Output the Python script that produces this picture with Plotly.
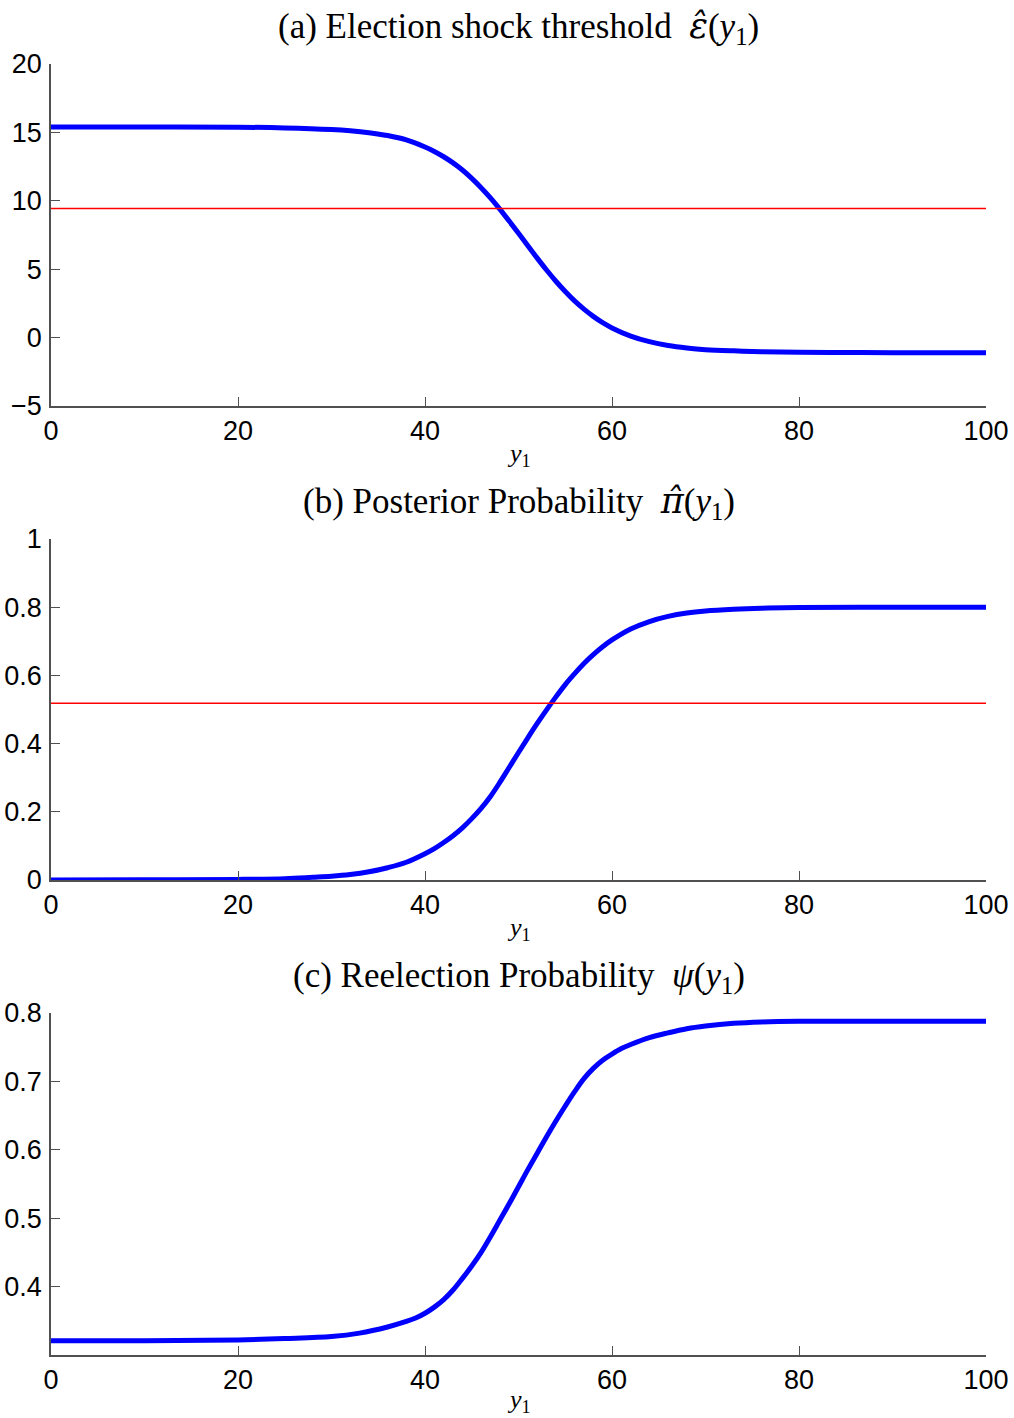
import plotly.graph_objects as go

# ---- data ----
x_a = [0, 10, 20, 25, 30, 32, 34, 36, 38, 40, 41, 42, 43, 44, 45, 46, 47, 48, 49, 50,
       51, 52, 53, 54, 55, 56, 57, 58, 59, 60, 62, 64, 66, 68, 70, 73, 76, 80, 85, 90, 100]
eps_hat = [15.39, 15.39, 15.38, 15.33, 15.21, 15.12, 14.98, 14.77, 14.45, 13.93, 13.61,
           13.22, 12.77, 12.25, 11.64, 10.96, 10.21, 9.39, 8.52, 7.63, 6.71, 5.81, 4.94,
           4.12, 3.37, 2.68, 2.08, 1.55, 1.09, 0.71, 0.11, -0.30, -0.58, -0.76, -0.88,
           -0.97, -1.03, -1.07, -1.09, -1.1, -1.1]
eps_threshold = [9.43, 9.43]

x_b = [0, 10, 20, 25, 28, 30, 32, 34, 36, 38, 40, 41, 42, 43, 44, 45, 46, 47, 48, 49,
       50, 51, 52, 53, 54, 55, 56, 57, 58, 59, 60, 62, 64, 66, 68, 70, 73, 76, 80, 90, 100]
pi_hat = [0.0003, 0.0006, 0.0018, 0.004, 0.008, 0.011, 0.016, 0.024, 0.036, 0.052, 0.077,
          0.092, 0.11, 0.13, 0.153, 0.18, 0.21, 0.245, 0.286, 0.33, 0.374, 0.417, 0.459,
          0.499, 0.537, 0.573, 0.605, 0.635, 0.661, 0.684, 0.704, 0.736, 0.758, 0.773,
          0.783, 0.789, 0.794, 0.797, 0.799, 0.8, 0.8]
pi_threshold = [0.518, 0.518]

x_c = [0, 10, 20, 25, 30, 33, 36, 38, 39, 40, 41, 42, 43, 44, 45, 46, 47, 48, 49, 50, 51,
       52, 53, 54, 55, 56, 57, 58, 59, 60, 61, 62, 64, 66, 68, 70, 73, 76, 80, 90, 100]
psi = [0.321, 0.321, 0.322, 0.324, 0.327, 0.332, 0.341, 0.349, 0.354, 0.361, 0.37,
       0.381, 0.395, 0.412, 0.43, 0.45, 0.473, 0.497, 0.521, 0.546, 0.571, 0.595, 0.619,
       0.642, 0.664, 0.685, 0.704, 0.719, 0.731, 0.74, 0.748, 0.754, 0.764, 0.771, 0.777,
       0.781, 0.785, 0.787, 0.788, 0.788, 0.788]

x_ends = [0, 100]
x_ticks = [0, 20, 40, 60, 80, 100]
ya_ticks = [-5, 0, 5, 10, 15, 20]
ya_text = ["\u22125", "0", "5", "10", "15", "20"]
yb_ticks = [0, 0.2, 0.4, 0.6, 0.8, 1]
yb_text = ["0", "0.2", "0.4", "0.6", "0.8", "1"]
yc_ticks = [0.4, 0.5, 0.6, 0.7, 0.8]
yc_text = ["0.4", "0.5", "0.6", "0.7", "0.8"]

HATFONT = '<span style="font-family:DejaVu Serif">'
titles = ["(a) Election shock threshold  " + HATFONT + "<i>\u03b5\u0302</i></span>(<i>y</i><sub>1</sub>)",
          "(b) Posterior Probability  " + HATFONT + "<i>\u03c0\u0302</i></span>(<i>y</i><sub>1</sub>)",
          "(c) Reelection Probability  <i>\u03c8</i>(<i>y</i><sub>1</sub>)"]

BLUE = "#0000ff"
RED = "#ff0000"
AX = "#505050"
TICKFONT = dict(family="Liberation Sans, Arial, sans-serif", size=27, color="black")
SERIF = "Liberation Serif, Times New Roman, serif"

fig = go.Figure()
fig.add_trace(go.Scatter(x=x_a, y=eps_hat, mode="lines", line=dict(color=BLUE, width=5, shape="spline"),
                         xaxis="x", yaxis="y", showlegend=False))
fig.add_trace(go.Scatter(x=x_ends, y=eps_threshold, mode="lines", line=dict(color=RED, width=1.5),
                         xaxis="x", yaxis="y", showlegend=False))
fig.add_trace(go.Scatter(x=x_b, y=pi_hat, mode="lines", line=dict(color=BLUE, width=5, shape="spline"),
                         xaxis="x2", yaxis="y2", showlegend=False))
fig.add_trace(go.Scatter(x=x_ends, y=pi_threshold, mode="lines", line=dict(color=RED, width=1.5),
                         xaxis="x2", yaxis="y2", showlegend=False))
fig.add_trace(go.Scatter(x=x_c, y=psi, mode="lines", line=dict(color=BLUE, width=5, shape="spline"),
                         xaxis="x3", yaxis="y3", showlegend=False))

W, H = 1014, 1418
top_m = 64
bot_m = H - 1355
left_m = 51
right_m = W - 986
plot_h = H - top_m - bot_m

def dom(top_px, bottom_px):
    return [(1355 - bottom_px) / plot_h, (1355 - top_px) / plot_h]

doms = [dom(64, 406), dom(539, 880), dom(1013, 1355)]

def xaxis(anchor):
    return dict(domain=[0, 1], range=[0, 100], tickvals=x_ticks, ticks="inside", ticklen=9,
                tickcolor=AX, tickwidth=1.2, showline=True, linecolor=AX, linewidth=1.5,
                mirror=False, showgrid=False, zeroline=False, tickfont=TICKFONT,
                anchor=anchor, ticklabelstandoff=0)

def yaxis(anchor, d, rng, tv, tt):
    return dict(domain=d, range=rng, tickvals=tv, ticktext=tt, ticks="inside", ticklen=9,
                tickcolor=AX, tickwidth=1.2, showline=True, linecolor=AX, linewidth=1.5,
                mirror=False, showgrid=False, zeroline=False, tickfont=TICKFONT,
                anchor=anchor, ticklabelstandoff=2)

xlabel_shift = [-49, -49, -46]
annotations = []
for i, d in enumerate(doms):
    annotations.append(dict(text=titles[i], x=0.5, y=d[1], xref="paper", yref="paper",
                            xanchor="center", yanchor="middle", yshift=36, showarrow=False,
                            font=dict(family=SERIF, size=35, color="black")))
    annotations.append(dict(text="<i>y</i><sub>1</sub>", x=0.5, y=d[0], xref="paper", yref="paper",
                            xanchor="center", yanchor="middle", yshift=xlabel_shift[i], showarrow=False,
                            font=dict(family=SERIF, size=26, color="black")))

fig.update_layout(
    width=W, height=H,
    margin=dict(l=left_m, r=right_m, t=top_m, b=bot_m, autoexpand=False),
    paper_bgcolor="white", plot_bgcolor="white",
    xaxis=xaxis("y"), yaxis=yaxis("x", doms[0], [-5, 20], ya_ticks, ya_text),
    xaxis2=xaxis("y2"), yaxis2=yaxis("x2", doms[1], [0, 1], yb_ticks, yb_text),
    xaxis3=xaxis("y3"), yaxis3=yaxis("x3", doms[2], [0.3, 0.8], yc_ticks, yc_text),
    annotations=annotations,
)

fig.write_html("out.html", config={"displayModeBar": False},
               post_script="document.body.style.margin='0';document.body.style.overflow='hidden';")
